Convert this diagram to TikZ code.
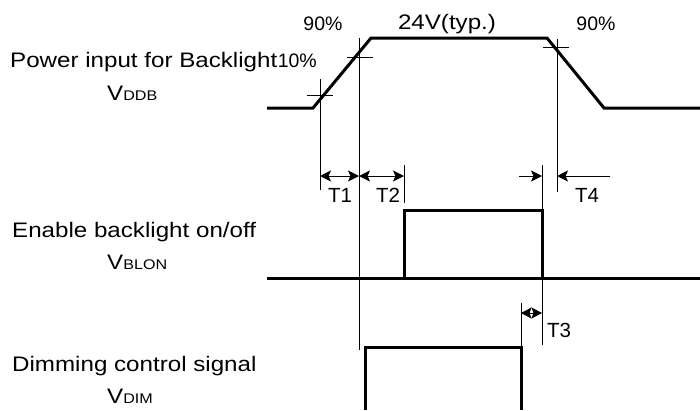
\documentclass[tikz,border=0pt]{standalone}
\usepackage{fontspec}
\setmainfont{Liberation Sans}
\newfontfamily\wide[FakeStretch=1.15]{Liberation Sans}
\usetikzlibrary{arrows.meta}
\tikzset{
  wave/.style={line width=3pt, line join=miter},
  thin/.style={line width=1pt},
  dim/.style={line width=1pt, {Stealth[length=11pt,width=11pt,inset=2.5pt]}-{Stealth[length=11pt,width=11pt,inset=2.5pt]}},
  inarrow/.style={line width=1pt, -{Stealth[length=11pt,width=11pt,inset=2.5pt]}},
  lbl/.style={inner sep=0pt, font=\wide\fontsize{21}{23}\selectfont},
  pct/.style={inner sep=0pt, font=\fontsize{19.5}{21}\selectfont},
  tl/.style={inner sep=0pt, font=\fontsize{20.5}{22}\selectfont},
}
\newcommand{\sigsub}[2]{#1{\fontsize{14}{16}\selectfont #2}}
\begin{document}
\begin{tikzpicture}[x=1pt,y=-1pt]
\useasboundingbox (0,0) rectangle (700,410);
% ---- coordinates: power waveform
\coordinate (p0) at (267,108);
\coordinate (p1) at (313,108);
\coordinate (p2) at (371,38);
\coordinate (p3) at (547,38);
\coordinate (p4) at (604,108);
\coordinate (p5) at (700,108);
% ---- BLON waveform
\coordinate (b0) at (267,278);
\coordinate (b1) at (404,278);
\coordinate (b2) at (404,210);
\coordinate (b3) at (542,210);
\coordinate (b4) at (542,278);
\coordinate (b5) at (700,278);
% ---- DIM waveform
\coordinate (d1) at (365,410);
\coordinate (d2) at (365,347);
\coordinate (d3) at (521,347);
\coordinate (d4) at (521,410);
% ---- marker / reference lines
\coordinate (c10h1) at (307,95);  \coordinate (c10h2) at (333,95);
\coordinate (c10v1) at (320,79);  \coordinate (c10v2) at (320,190);
\coordinate (c90h1) at (347,57);  \coordinate (c90h2) at (373,57);
\coordinate (c90v1) at (359,38);  \coordinate (c90v2) at (359,350);
\coordinate (f90h1) at (543,47);  \coordinate (f90h2) at (569,47);
\coordinate (f90v1) at (557,39);  \coordinate (f90v2) at (557,192);
\coordinate (t2v1) at (404,165);  \coordinate (t2v2) at (404,203);
\coordinate (t4v1) at (542,165);
\coordinate (t3v1) at (521,303);
\coordinate (t3v2) at (542,345);
% arrow ends
\coordinate (a1l) at (320,176); \coordinate (a1r) at (359,176);
\coordinate (a2r) at (404,176);
\coordinate (a4l0) at (519,176); \coordinate (a4l) at (542,176);
\coordinate (a4r0) at (610,176); \coordinate (a4r) at (557,176);
\coordinate (a3l) at (521,313); \coordinate (a3r) at (542,313);

% ---- waveforms
\draw[wave] (p0) -- (p1) -- (p2) -- (p3) -- (p4) -- (p5);
\draw[wave] (b0) -- (b5);
\draw[wave] (b1) -- (b2) -- (b3) -- (b4);
\draw[wave] (d1) -- (d2) -- (d3) -- (d4);

% ---- thin lines
\draw[thin] (c10h1) -- (c10h2);
\draw[thin] (c10v1) -- (c10v2);
\draw[thin] (c90h1) -- (c90h2);
\draw[thin] (c90v1) -- (c90v2);
\draw[thin] (f90h1) -- (f90h2);
\draw[thin] (f90v1) -- (f90v2);
\draw[thin] (t2v1) -- (t2v2);
\draw[thin] (t4v1) -- (b3);
\draw[thin] (t3v1) -- (d3);
\draw[thin] (b4) -- (t3v2);

% ---- timing arrows
\draw[dim] (a1l) -- (a1r);
\draw[dim] (a1r) -- (a2r);
\draw[inarrow] (a4l0) -- (a4l);
\draw[inarrow] (a4r0) -- (a4r);
\draw[line width=1pt, {Stealth[length=10.5pt,width=11pt,inset=2pt]}-{Stealth[length=10.5pt,width=11pt,inset=2pt]}] (a3l) -- (a3r);

% ---- labels
\node[pct] (l90a) at (323,24) {90\%};
\node[lbl] (l24) at (447,24) {24V(typ.)};
\node[pct] (l90b) at (596,24) {90\%};
\node[lbl, anchor=base west] (lpow) at (10,67) {Power input for Backlight};
\node[pct, anchor=base east] (l10) at (317,67) {10\%};
\node[lbl, anchor=base west] (lvddb) at (107,100) {\sigsub{V}{DDB}};
\node[lbl, anchor=base west] (len) at (12,237) {Enable backlight on/off};
\node[lbl, anchor=base west] (lvblon) at (107,269) {\sigsub{V}{BLON}};
\node[lbl, anchor=base west] (ldim) at (12,371) {Dimming control signal};
\node[lbl, anchor=base west] (lvdim) at (107,403) {\sigsub{V}{DIM}};
\node[tl] (lt1) at (340,195) {T1};
\node[tl] (lt2) at (388,195) {T2};
\node[tl] (lt4) at (587,195) {T4};
\node[tl] (lt3) at (559,330) {T3};
\end{tikzpicture}
\end{document}
